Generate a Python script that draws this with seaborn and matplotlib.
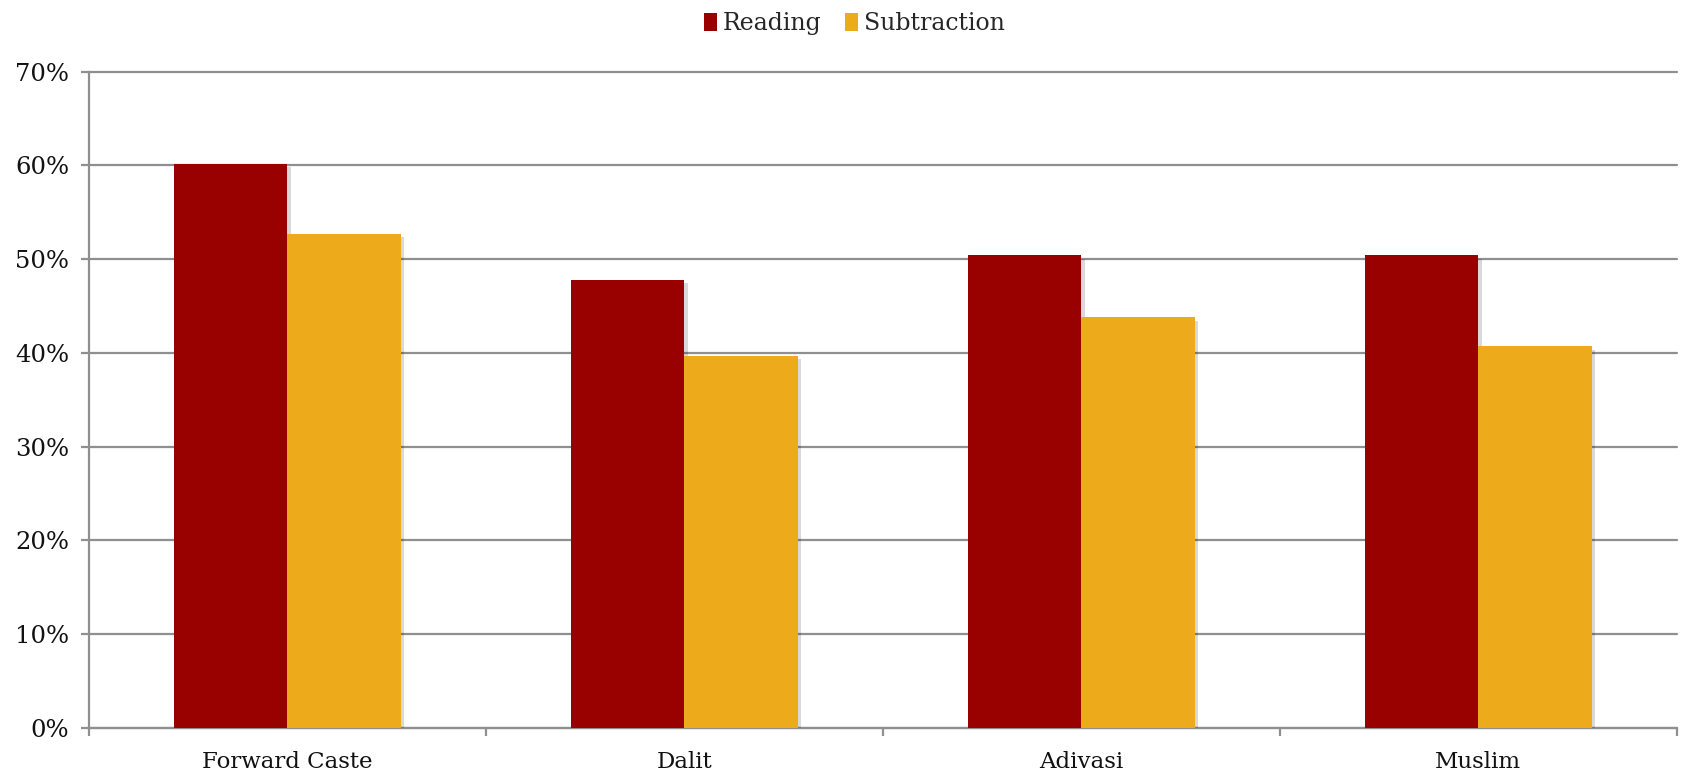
import numpy as np
import pandas as pd
import matplotlib
matplotlib.use("Agg")
import matplotlib.pyplot as plt
import matplotlib.patheffects as pe
from matplotlib.patches import Patch
from matplotlib.ticker import FuncFormatter, FixedLocator
import seaborn as sns

# Share of children able to do each task, by social group (%)
groups = ["Forward Caste", "Dalit", "Adivasi", "Muslim"]
reading = [60.2, 47.8, 50.4, 50.4]
subtraction = [52.7, 39.7, 43.8, 40.7]
series_names = ["Reading", "Subtraction"]
y_ticks = [0, 10, 20, 30, 40, 50, 60, 70]

df = pd.DataFrame({
    "group": groups * 2,
    "skill": [series_names[0]] * len(groups) + [series_names[1]] * len(groups),
    "pct": reading + subtraction,
})

sns.set_theme(style="white")
plt.rcParams["font.family"] = ["DejaVu Serif"]

fig = plt.figure(figsize=(16.82, 7.73), dpi=100)
ax = fig.add_axes([0.0528, 0.0586, 0.9440, 0.8486])

colors = ["#990000", "#EDAB1B"]
palette = dict(zip(series_names, colors))
sns.barplot(data=df, x="group", y="pct", hue="skill", order=groups,
            hue_order=series_names, palette=palette, width=0.572,
            saturation=1, linewidth=0, ax=ax, zorder=3, legend=False)

# Soft drop shadow behind each bar
shadow = [pe.SimplePatchShadow(offset=(2.5, -2.5), shadow_rgbFace="#000000", alpha=0.15),
          pe.Normal()]
for p in ax.patches:
    p.set_path_effects(shadow)

grid_c = "#8f8f8f"
ax.set_ylim(0, 70)
ax.set_xlim(-0.5, len(groups) - 0.5)
ax.yaxis.set_major_locator(FixedLocator(y_ticks))
ax.yaxis.set_major_formatter(FuncFormatter(lambda v, _: f"{v:.0f}%"))
ax.grid(axis="y", color=grid_c, linewidth=1.6, zorder=0)
ax.grid(axis="x", visible=False)
for gl in ax.get_ygridlines():
    gl.set_clip_on(False)

for side in ["top", "right"]:
    ax.spines[side].set_visible(False)
for side in ["left", "bottom"]:
    ax.spines[side].set_color(grid_c)
    ax.spines[side].set_linewidth(1.6)

ax.tick_params(axis="y", which="major", length=6, width=1.6, color=grid_c,
               pad=8, labelsize=17.5, labelcolor="#111111", left=True)
ax.tick_params(axis="x", which="major", length=0, pad=17, labelsize=16.5,
               labelcolor="#111111")
# Tick marks sit on the boundaries between category groups
ax.set_xticks(np.arange(len(groups) + 1) - 0.5, minor=True)
ax.tick_params(axis="x", which="minor", length=6, width=1.6, color=grid_c, bottom=True)

ax.set_xlabel("")
ax.set_ylabel("")

handles = [Patch(facecolor=c, edgecolor="none") for c in colors]
fig.legend(handles, series_names, loc="upper center", bbox_to_anchor=(0.508, 1.012),
           ncol=2, frameon=False, fontsize=17, handlelength=0.55, handleheight=0.8,
           handletextpad=0.25, columnspacing=1.0)

fig.savefig("out.png", dpi=100, facecolor="white")
